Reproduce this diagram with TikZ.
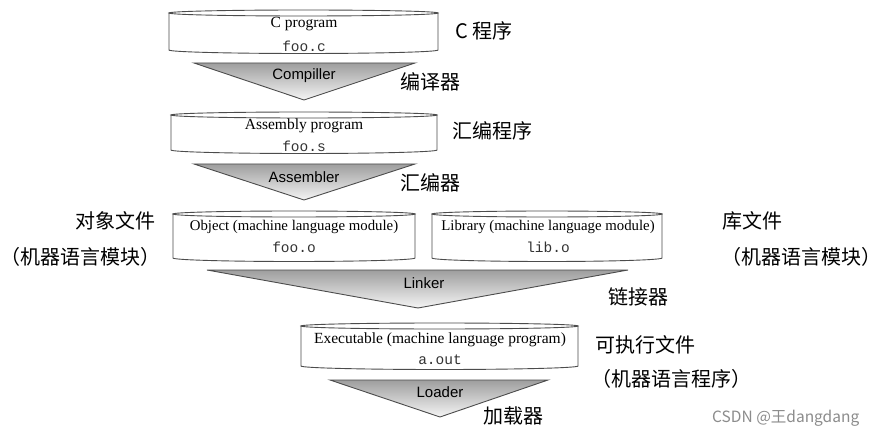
\documentclass[tikz,border=0pt]{standalone}
\usepackage{fontspec}
\setmainfont{Liberation Serif}
\setsansfont{Liberation Sans}
\setmonofont{Liberation Mono}
\newfontfamily\cjk{Noto Sans CJK SC}
\begin{document}
\begin{tikzpicture}[x=1pt,y=1pt,
  drumline/.style={draw=black!70,line width=0.9pt,fill=white},
  funnel/.style={draw=black!70,line width=0.9pt,top color=black!38,bottom color=black!4},
  serif/.style={inner sep=0pt,font=\fontsize{15.5}{17}\selectfont},
  serifb/.style={inner sep=0pt,font=\fontsize{14.8}{17}\selectfont},
  mono/.style={inner sep=0pt,text=black!80,font=\ttfamily\fontsize{14.5}{16}\selectfont},
  tool/.style={inner sep=0pt,font=\sffamily\fontsize{15}{17}\selectfont},
  zh/.style={inner sep=0pt,anchor=west,font=\cjk\fontsize{20}{22}\selectfont},
  wmark/.style={inner sep=0pt,anchor=west,text=black!45,font=\cjk\fontsize{15.5}{17}\selectfont}]
\newcommand\drumshape[4]{%
  \pgfmathsetmacro\drx{(#2-#1)/2}%
  \pgfmathsetmacro\drc{(#2+#1)/2}%
  \draw[drumline] (#1,#3) -- (#1,#4) arc[start angle=180,end angle=360,x radius=\drx,y radius=3.5] -- (#2,#3) -- cycle;
  \draw[drumline] (\drc,#3) ellipse[x radius=\drx,y radius=3];}
\useasboundingbox (0,0) rectangle (880,-438);
\fill[white] (0,0) rectangle (880,-438);
% drums
\drumshape{169}{438}{-13}{-50}
\drumshape{171}{437}{-115}{-150}
\drumshape{173}{415}{-214}{-258}
\drumshape{432}{662}{-214}{-258}
\drumshape{301}{578}{-326}{-366}
% funnels
\draw[funnel] (194,-63) -- (415,-63) -- (304,-100) -- cycle;
\draw[funnel] (194,-164) -- (415,-164) -- (304,-200) -- cycle;
\draw[funnel] (207,-270) -- (628,-270) -- (418,-308) -- cycle;
\draw[funnel] (330,-380) -- (548,-380) -- (440,-417) -- cycle;
% drum texts
\node[serif] (cprog) at (304,-24) {C program};
\node[mono] (fooc) at (304,-46) {foo.c};
\node[serif] (asmprog) at (304,-126) {Assembly program};
\node[mono] (foos) at (304,-146) {foo.s};
\node[serifb] (obj) at (294,-227) {Object (machine language module)};
\node[mono] (fooo) at (294,-247) {foo.o};
\node[serifb] (lib) at (548,-227) {Library (machine language module)};
\node[mono] (libo) at (548,-247) {lib.o};
\node[serif] (exe) at (440,-340) {Executable (machine language program)};
\node[mono] (aout) at (440,-360) {a.out};
% tools
\node[tool] (compiler) at (304,-76) {Compiller};
\node[tool] (assembler) at (304,-177) {Assembler};
\node[tool] (linker) at (424,-283) {Linker};
\node[tool] (loader) at (440,-392) {Loader};
% chinese labels
\node[zh] (zc) at (455,-31) {C 程序};
\node[zh] (zcomp) at (400,-82) {编译器};
\node[zh] (zasm) at (452,-131) {汇编程序};
\node[zh] (zas) at (400,-183) {汇编器};
\node[zh] (zobj) at (75,-221) {对象文件};
\node[zh] (zobj2) at (0,-257) {（机器语言模块）\hspace*{-11pt}};
\node[zh] (zlib) at (722,-221) {库文件};
\node[zh] (zlib2) at (732,-257) {\hspace*{-11pt}（机器语言模块）\hspace*{-11pt}};
\node[zh] (zlink) at (608,-297) {链接器};
\node[zh] (zexe) at (595,-345) {可执行文件};
\node[zh] (zexe2) at (602,-379) {\hspace*{-11pt}（机器语言程序）\hspace*{-11pt}};
\node[zh] (zload) at (483,-416) {加载器};
\node[wmark] (wm) at (712,-418) {CSDN @王dangdang};
\end{tikzpicture}
\end{document}
